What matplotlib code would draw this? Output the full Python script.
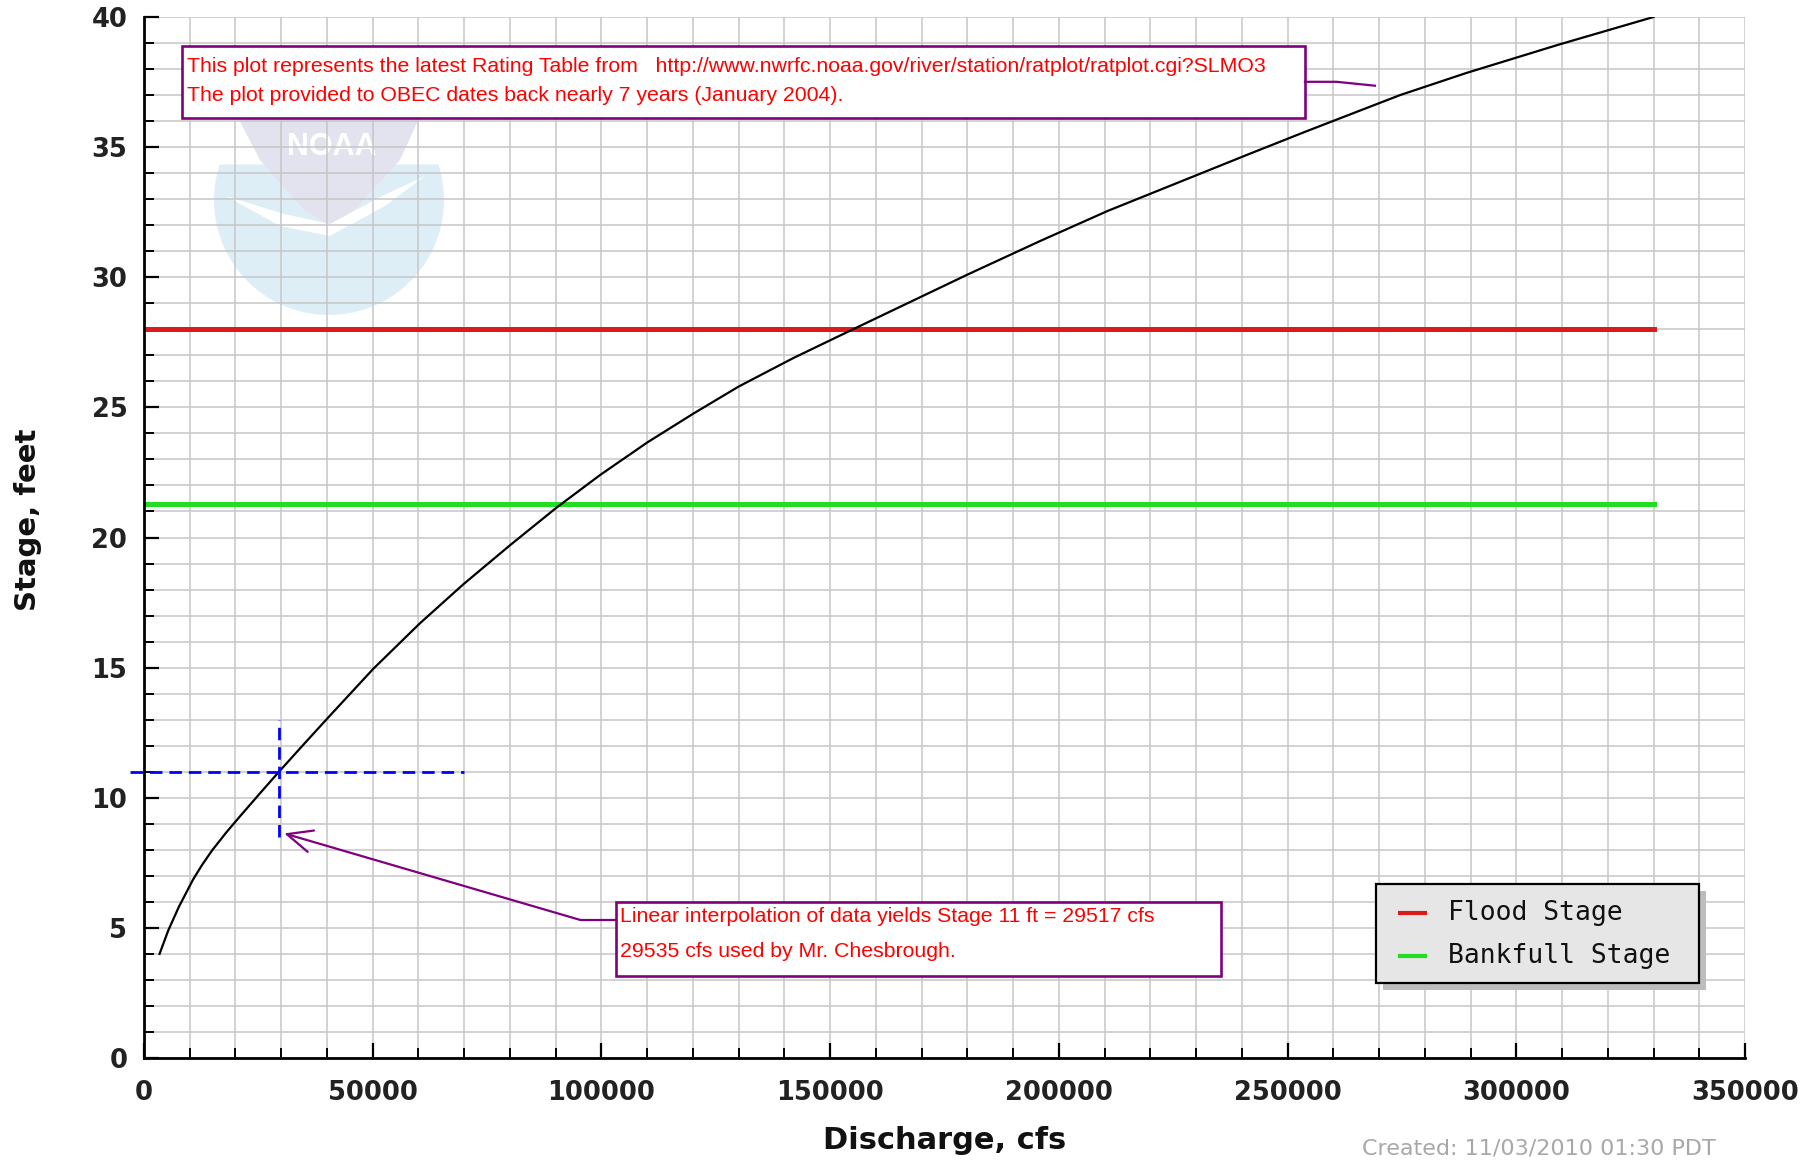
import matplotlib
matplotlib.use("Agg")
import matplotlib.pyplot as plt
from matplotlib import font_manager
from matplotlib.patches import Rectangle, Polygon
from matplotlib.ticker import MultipleLocator, StrMethodFormatter
import numpy as np

# Rating table for SLMO3: discharge (cfs) vs stage (ft)
discharge = [3400, 5300, 7600, 10700, 12700, 14900, 18000, 21100, 25500, 29517,
             34900, 40100, 50100, 60300, 69800, 80000, 90200, 99700, 110000,
             120000, 130000, 142000, 155000, 180000, 196000, 210700, 241800,
             254000, 274600, 289100, 309500, 330000]
stage = [4.0, 4.9, 5.8, 6.85, 7.42, 7.98, 8.67, 9.31, 10.2, 11.0,
         12.05, 13.05, 14.95, 16.7, 18.2, 19.7, 21.15, 22.4, 23.65,
         24.75, 25.8, 26.9, 28.0, 30.1, 31.4, 32.55, 34.75,
         35.6, 37.0, 37.85, 38.95, 40.0]

flood_stage = 28.0
bankfull_stage = 21.3
stage_line_extent = [0, 330000]
legend_labels = ["Flood Stage", "Bankfull Stage"]
legend_colors = ["#dd1a1a", "#22dd22"]

# stage 11 ft lookup
pick_stage = 11.0
pick_discharge = 29517

note_top = ["This plot represents the latest Rating Table from   "
            "http://www.nwrfc.noaa.gov/river/station/ratplot/ratplot.cgi?SLMO3",
            "The plot provided to OBEC dates back nearly 7 years (January 2004)."]
note_bottom = ["Linear interpolation of data yields Stage 11 ft = 29517 cfs",
               "29535 cfs used by Mr. Chesbrough."]
created = "Created: 11/03/2010 01:30 PDT"

W, H, DPI = 1813, 1161, 100
PURPLE = "#800080"
NOTE_RED = "#ff0000"

_names = {f.name for f in font_manager.fontManager.ttflist}
if "Liberation Sans Narrow" in _names:
    NOTE_FONT, NOTE_SIZE = "Liberation Sans Narrow", 17
else:
    NOTE_FONT, NOTE_SIZE = "Liberation Sans", 15.3

plt.rcParams["font.family"] = ["DejaVu Sans"]

fig = plt.figure(figsize=(W / DPI, H / DPI), dpi=DPI)
ax = fig.add_axes([144 / W, 1 - 1058 / H, (1745 - 144) / W, (1058 - 17) / H])
tr = fig.dpi_scale_trans


def px(x, y):
    """pixel position (from top-left) -> inches for fig.dpi_scale_trans"""
    return (x / DPI, (H - y) / DPI)


# faded NOAA watermark behind the grid
cx, cy, r = 329, 200, 115
ang = np.radians(np.linspace(162, 378, 80))
ax.add_patch(Polygon([px(cx + r * np.cos(a), cy - r * np.sin(a)) for a in ang],
                     closed=True, transform=tr, facecolor="#deeef7", edgecolor="none", zorder=0.1))
ax.add_patch(Polygon([px(x, y) for x, y in [(235, 112), (422, 112), (400, 160), (354, 210),
                                              (330, 226), (304, 210), (260, 160)]],
                     closed=True, transform=tr, facecolor="#e2e3ef", edgecolor="none", zorder=0.15))
ax.add_patch(Polygon([px(x, y) for x, y in [(226, 196), (280, 226), (330, 236), (385, 206),
                                              (425, 176), (382, 196), (330, 224), (284, 214)]],
                     closed=True, transform=tr, facecolor="white", edgecolor="none", zorder=0.2))
ax.text(*px(332, 147), "NOAA", transform=tr, ha="center", va="center", color="white",
        fontsize=22, fontweight="bold", family="Liberation Sans", zorder=0.3)

# rating curve and reference stages
ax.plot(discharge, stage, color="black", lw=1.6, zorder=3)
ax.plot(stage_line_extent, [flood_stage] * 2, color=legend_colors[0], lw=3.6, zorder=2)
ax.plot(stage_line_extent, [bankfull_stage] * 2, color=legend_colors[1], lw=3.6, zorder=2)

# dashed cross-hair at the 11 ft lookup
ax.plot([-3000, 70000], [pick_stage] * 2, color="#0000ff", lw=2.0, dashes=(4.5, 2.5),
        clip_on=False, zorder=4)
ax.plot([pick_discharge] * 2, [8.5, 13.0], color="#0000ff", lw=2.0, dashes=(4.5, 2.5), zorder=4)

# upper note box with leader
ax.add_patch(Rectangle((8240, 36.1), 253800 - 8240, 38.9 - 36.1, facecolor="white",
                       edgecolor=PURPLE, lw=1.9, zorder=5))
for txt, y in zip(note_top, [37.90, 36.77]):
    ax.text(9310, y, txt, color=NOTE_RED, family=NOTE_FONT, fontsize=NOTE_SIZE,
            va="baseline", ha="left", zorder=6)
ax.plot([253800, 260700, 269100], [37.51, 37.51, 37.36], color=PURPLE, lw=1.6, zorder=5)

# lower note box with arrow to the lookup point
ax.add_patch(Rectangle((103080, 3.16), 235400 - 103080, 6.01 - 3.16, facecolor="white",
                       edgecolor=PURPLE, lw=1.9, zorder=5))
for txt, y in zip(note_bottom, [5.21, 3.87]):
    ax.text(104060, y, txt, color=NOTE_RED, family=NOTE_FONT, fontsize=NOTE_SIZE,
            va="baseline", ha="left", zorder=6)
ax.plot([95460, 103080], [5.30, 5.30], color=PURPLE, lw=1.6, zorder=5)
ax.annotate("", xy=(30650, 8.63), xytext=(95460, 5.30), zorder=5,
            arrowprops=dict(arrowstyle="->,head_length=0.9,head_width=0.4", color=PURPLE,
                            lw=1.6, shrinkA=0, shrinkB=0, mutation_scale=20))

# axes styling
ax.set_xlim(0, 350000)
ax.set_ylim(0, 40)
ax.xaxis.set_major_locator(MultipleLocator(50000))
ax.xaxis.set_minor_locator(MultipleLocator(10000))
ax.yaxis.set_major_locator(MultipleLocator(5))
ax.yaxis.set_minor_locator(MultipleLocator(1))
ax.xaxis.set_major_formatter(StrMethodFormatter("{x:.0f}"))
ax.yaxis.set_major_formatter(StrMethodFormatter("{x:.0f}"))
ax.set_axisbelow(True)
ax.grid(which="both", color="#c6c6c6", lw=1.1)
for s in ("top", "right"):
    ax.spines[s].set_visible(False)
for s in ("left", "bottom"):
    ax.spines[s].set_linewidth(2.0)
ax.tick_params(which="major", direction="in", length=11, width=1.6, labelsize=18.5)
ax.tick_params(which="minor", direction="in", length=7, width=1.4)
ax.tick_params(axis="x", which="major", pad=16)
ax.tick_params(axis="y", which="major", pad=12)
for lab in ax.get_xticklabels() + ax.get_yticklabels():
    lab.set_fontweight("bold")
    lab.set_color("#222222")

ax.set_xlabel("Discharge, cfs", fontsize=22, fontweight="bold", color="#111111")
ax.set_ylabel("Stage, feet", fontsize=21, fontweight="bold", color="#111111")
ax.xaxis.set_label_coords(0.5, -0.0656)
ax.yaxis.set_label_coords(-0.0637, 0.517)

# legend box with drop shadow, laid out in pixels
ax.add_patch(Rectangle(px(1383, 990), 323 / DPI, 99 / DPI, transform=tr, facecolor="#bdbdbd",
                       edgecolor="none", zorder=7, clip_on=False))
ax.add_patch(Rectangle(px(1376, 983), 323 / DPI, 99 / DPI, transform=tr, facecolor="#e6e6e6",
                       edgecolor="black", lw=1.6, zorder=7.1, clip_on=False))
for lab, col, yy in zip(legend_labels, legend_colors, [913, 956]):
    ax.plot(*zip(px(1398, yy), px(1427, yy)), transform=tr, color=col, lw=3.0,
            solid_capstyle="butt", zorder=7.2, clip_on=False)
    ax.text(*px(1448, yy), lab, transform=tr, family="DejaVu Sans Mono", fontsize=19,
            ha="left", va="center", color="#111111", zorder=7.2)

fig.text(1362 / W, 2 / H, created, color="#a8a8a8", fontsize=16, ha="left", va="bottom")

fig.savefig("out.png", dpi=DPI, facecolor="white")
